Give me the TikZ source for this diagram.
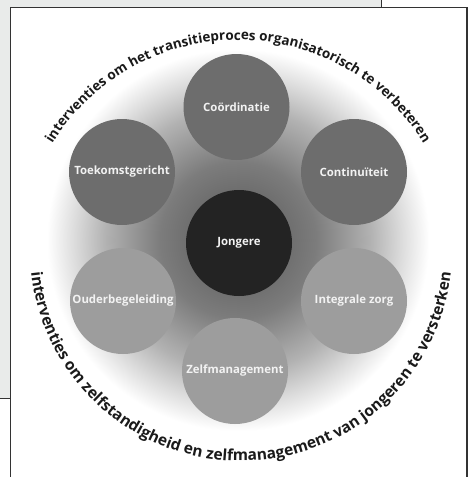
\documentclass[tikz,border=0pt]{standalone}
\usepackage{fontspec}
\setmainfont{Open Sans}
\usetikzlibrary{decorations.text}
\definecolor{panel}{HTML}{E9EBEA}
\definecolor{frame}{HTML}{333333}
\definecolor{topc}{HTML}{6D6D6D}
\definecolor{lowc}{HTML}{9D9D9D}
\definecolor{core}{HTML}{232323}
\definecolor{ink}{HTML}{1A1A1A}
\definecolor{labc}{HTML}{F2F2F2}
\definecolor{gA}{HTML}{555555}
\definecolor{gB}{HTML}{7C7C7C}
\definecolor{gC}{HTML}{B2B2B2}
\definecolor{gD}{HTML}{DCDCDC}
\pgfdeclareradialshading{bgshade}{\pgfpoint{0bp}{0bp}}{color(0bp)=(gA); color(10bp)=(gB); color(17bp)=(gC); color(21bp)=(gD); color(24.5bp)=(white); color(50bp)=(white)}
\begin{document}
\begin{tikzpicture}[x=1pt,y=1pt,
  circ/.style={circle, minimum size=106pt, inner sep=0pt, text=labc,
    font=\bfseries\fontsize{11.4}{13}\selectfont},
  topcirc/.style={circ, fill=topc},
  lowcirc/.style={circ, fill=lowc},
  arctext/.style 2 args={decorate, decoration={text along path, text align=center, text color=ink,
    text={|\bfseries\fontsize{#1}{16}\selectfont|#2}}}]
\useasboundingbox (0,0) rectangle (468,-477);
\fill[panel] (0,0) rectangle (381,-398);
\draw[frame, line width=1pt] (381,0) -- (381,-398) -- (0,-398);
\fill[white] (10.7,-7.5) rectangle (467,-477);
\draw[frame, line width=1.3pt] (10.7,-477) -- (10.7,-7.5) -- (467,-7.5) -- (467,-477);
\coordinate (c) at (238,-240);
\shade[shading=bgshade] (c) circle (195);
\node[circ, fill=core] (jong) at (239,-243) {Jongere};
\node[topcirc] (coord) at (236.5,-107) {Coördinatie};
\node[topcirc] (toek) at (122,-172) {Toekomstgericht};
\node[topcirc] (cont) at (354,-172) {Continuïteit};
\node[lowcirc] (ouder) at (123,-301) {Ouderbegeleiding};
\node[lowcirc] (integ) at (354,-301) {Integrale zorg};
\node[lowcirc] (zelf) at (235,-371) {Zelfmanagement};
\coordinate (tc) at (238,-258);
\coordinate (bc) at (241,-250);
\path[arctext={13.5}{interventies om het transitieproces organisatorisch te verbeteren}]
  ([shift={(178:218)}]tc) arc[start angle=178, end angle=2, radius=218];
\path[arctext={15.5}{interventies om zelfstandigheid en zelfmanagement van jongeren te versterken}]
  ([shift={(175:211)}]bc) arc[start angle=175, end angle=365, radius=211];
\end{tikzpicture}
\end{document}
